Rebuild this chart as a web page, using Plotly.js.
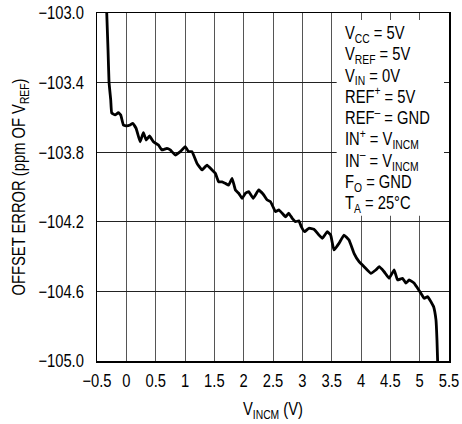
<!DOCTYPE html>
<html><head><meta charset="utf-8">
<script src="https://cdn.plot.ly/plotly-3.0.1.min.js"></script>
<style>html,body{margin:0;padding:0;background:#fff}#chart{width:462px;height:424px}</style>
</head><body><div id="chart"></div>
<script>
const vincm = [-0.334,-0.312,-0.295,-0.266,-0.249,-0.192,-0.136,-0.095,-0.05,0.008,0.064,0.11,0.167,0.235,0.291,0.338,0.394,0.462,0.548,0.606,0.691,0.748,0.833,0.919,1.004,1.061,1.119,1.204,1.29,1.375,1.461,1.517,1.574,1.632,1.688,1.744,1.803,1.859,1.915,1.974,2.03,2.086,2.162,2.257,2.343,2.401,2.457,2.543,2.599,2.657,2.714,2.77,2.828,2.885,2.941,2.982,3.038,3.112,3.197,3.283,3.341,3.426,3.483,3.539,3.625,3.71,3.796,3.881,3.967,4.052,4.167,4.252,4.309,4.394,4.479,4.565,4.623,4.709,4.765,4.821,4.907,4.965,5.021,5.078,5.136,5.192,5.238,5.278,5.295,5.307];
const offsetErr = [-103.0,-103.213,-103.397,-103.5,-103.575,-103.586,-103.573,-103.586,-103.644,-103.649,-103.644,-103.634,-103.663,-103.74,-103.688,-103.73,-103.707,-103.74,-103.759,-103.787,-103.778,-103.787,-103.816,-103.797,-103.768,-103.797,-103.797,-103.864,-103.902,-103.874,-103.902,-103.921,-103.97,-103.97,-103.979,-103.989,-103.95,-104.017,-104.036,-104.065,-104.036,-104.027,-104.065,-104.017,-104.046,-104.075,-104.084,-104.142,-104.132,-104.151,-104.171,-104.151,-104.18,-104.199,-104.194,-104.228,-104.257,-104.237,-104.243,-104.276,-104.295,-104.257,-104.276,-104.362,-104.324,-104.276,-104.305,-104.381,-104.429,-104.458,-104.496,-104.477,-104.458,-104.487,-104.525,-104.477,-104.534,-104.525,-104.553,-104.534,-104.553,-104.582,-104.611,-104.64,-104.63,-104.659,-104.688,-104.764,-104.879,-105.01];
const yTicks = [-105.0,-104.6,-104.2,-103.8,-103.4,-103.0];
const xTicks = [-0.5,0,0.5,1,1.5,2,2.5,3,3.5,4,4.5,5,5.5];
const conditions = ["V<sub>CC</sub> = 5V","V<sub>REF</sub> = 5V","V<sub>IN</sub> = 0V","REF<sup>+</sup> = 5V","REF<sup>–</sup> = GND","IN<sup>+</sup> = V<sub>INCM</sub>","IN<sup>–</sup> = V<sub>INCM</sub>","F<sub>O</sub> = GND","T<sub>A</sub> = 25°C"];

const FONT = "'Liberation Sans',Arial,sans-serif";
const FS = 18;
const trace = {x: vincm, y: offsetErr, type:'scatter', mode:'lines',
  line:{color:'#000', width:2.8, shape:'spline', smoothing:0.3}, hoverinfo:'skip'};
const layout = {
  width:462, height:424,
  margin:{l:97, r:13, t:13, b:63},
  paper_bgcolor:'#fff', plot_bgcolor:'#fff',
  font:{family:FONT, size:FS, color:'#000'},
  showlegend:false,
  xaxis:{range:[-0.5,5.5], tickvals:xTicks, ticktext:xTicks.map(v=>v<0?'−'+Math.abs(v):String(v)),
    showgrid:true, gridcolor:'#555', gridwidth:1, zeroline:false,
    showline:true, linecolor:'#000', linewidth:1.5, mirror:true, ticks:'',
    ticklabelstandoff:3,
    tickfont:{family:FONT,size:FS},
    title:{text:'V<sub>INCM</sub> (V)', font:{family:FONT,size:FS}, standoff:12}},
  yaxis:{range:[-105,-103], tickvals:yTicks, ticktext:yTicks.map(v=>'−'+Math.abs(v).toFixed(1)),
    showgrid:true, gridcolor:'#222', gridwidth:1, zeroline:false,
    showline:true, linecolor:'#000', linewidth:1.5, mirror:true, ticks:'',
    ticklabelstandoff:8,
    tickfont:{family:FONT,size:FS},
    title:{text:'OFFSET ERROR (ppm OF V<sub>REF</sub>)', font:{family:FONT,size:FS}, standoff:2}},
  shapes:[{type:'rect', xref:'x', yref:'y', x0:3.585, x1:5.415, y0:-103.04, y1:-104.165,
    fillcolor:'#fff', line:{width:0}, layer:'above'}],
  annotations:[{xref:'x', yref:'y', x:3.705, y:-103.05, xanchor:'left', yanchor:'top',
    align:'left', showarrow:false, borderpad:0, text:conditions.join('<br>'),
    font:{family:FONT, size:FS, color:'#000'}}]
};
Plotly.newPlot('chart',[trace],layout,{staticPlot:true, displayModeBar:false}).then(gd=>{
  const S = 0.82;
  gd.querySelectorAll('svg text').forEach(t=>{
    const x = parseFloat(t.getAttribute('x')) || 0;
    const tr = t.getAttribute('transform') || '';
    t.setAttribute('transform', (tr+' translate('+x+',0) scale('+S+',1) translate('+(-x)+',0)').trim());
  });
  const k = 21.3/(FS*1.3);
  gd.querySelectorAll('.annotation-text tspan.line').forEach(ts=>{
    const dy = ts.getAttribute('dy');
    if(dy && dy.endsWith('em')){
      ts.setAttribute('dy', (parseFloat(dy)*k)+'em');
    }
  });
  const yt = gd.querySelector('.g-ytitle');
  if(yt) yt.setAttribute('transform','translate(4,0)');
});
</script></body></html>
